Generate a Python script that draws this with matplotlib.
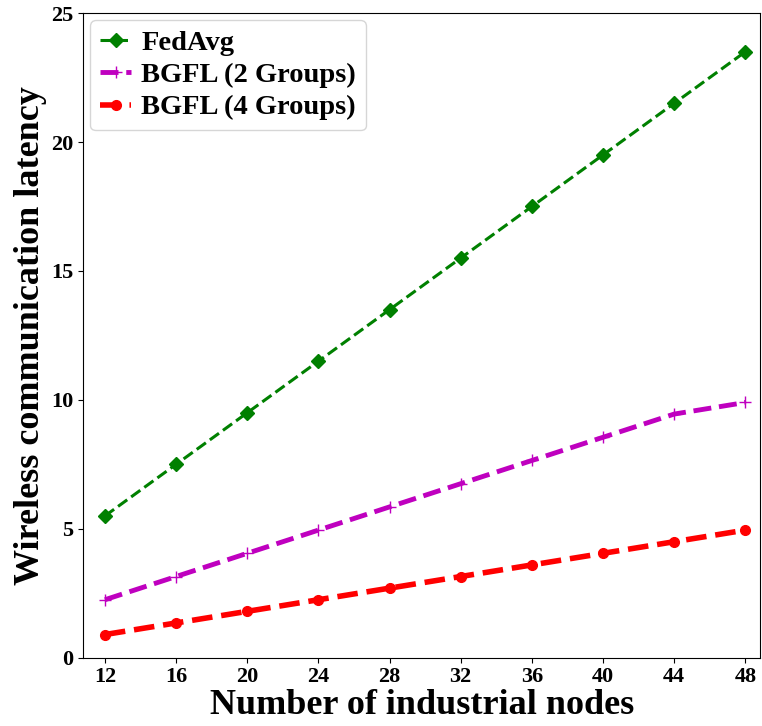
import numpy as np
import matplotlib.pyplot as plt

plt.rcParams['font.family'] = ['Liberation Serif', 'DejaVu Serif']
plt.rcParams['font.weight'] = 'bold'

# -----------------------------
# Data
# -----------------------------
nodes = [12, 16, 20, 24, 28, 32, 36, 40, 44, 48]
fedavg = [5.5, 7.5, 9.5, 11.5, 13.5, 15.5, 17.5, 19.5, 21.5, 23.5]
bgfl_2 = [2.25, 3.15, 4.05, 4.95, 5.85, 6.75, 7.65, 8.55, 9.45, 9.9]
bgfl_4 = [0.9, 1.35, 1.8, 2.25, 2.7, 3.15, 3.6, 4.05, 4.5, 4.95]

fig = plt.figure(figsize=(7.62, 7.26), dpi=100)
ax = fig.add_axes([0.109, 0.094, 0.889, 0.888])

ax.plot(nodes, fedavg, color='green', linestyle='--', linewidth=2.2,
        marker='D', markersize=7, label='FedAvg')
ax.plot(nodes, bgfl_2, color='m', linestyle='--', linewidth=3.5,
        marker='+', markersize=8, label='BGFL (2 Groups)')
ax.plot(nodes, bgfl_4, color='red', linestyle='--', linewidth=4,
        marker='o', markersize=7, label='BGFL (4 Groups)')

ax.set_xlim(10.77, 48.85)
ax.set_ylim(0, 25)
ax.set_xticks(nodes)
ax.set_yticks([0, 5, 10, 15, 20, 25])
ax.tick_params(labelsize=16)
for lbl in ax.get_xticklabels() + ax.get_yticklabels():
    lbl.set_fontweight('bold')

ax.set_xlabel('Number of industrial nodes', fontsize=26, fontweight='bold', labelpad=1)
ax.set_ylabel('Wireless communication latency', fontsize=26, fontweight='bold', labelpad=3)

ax.legend(loc='upper left', prop={'size': 20.5, 'weight': 'bold'},
          handlelength=1.1, handletextpad=0.35, borderaxespad=0.25,
          borderpad=0.35, labelspacing=0.22)

fig.savefig('out.png', dpi=100)
